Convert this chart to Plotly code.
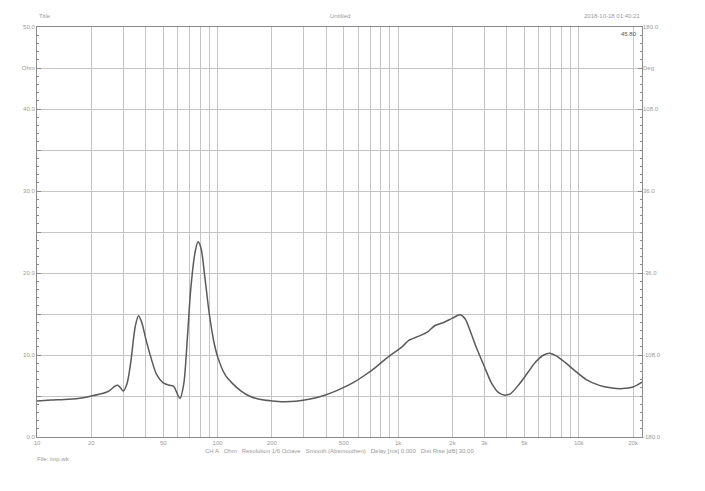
import plotly.graph_objects as go
import numpy as np

freq_hz = [10, 12, 15, 18, 20, 23, 25, 27, 28, 29, 30, 31.5, 33, 35, 36.5, 38, 40, 43, 46, 50,
           54, 57, 60, 62, 65, 68, 71, 75, 78, 81, 85, 90, 95, 100, 110, 120, 135, 150, 170, 200,
           230, 270, 320, 380, 450, 550, 650, 750, 850, 950, 1050, 1150, 1300, 1450, 1600, 1800,
           2000, 2200, 2350, 2500, 2700, 3000, 3300, 3600, 3900, 4200, 4700, 5200, 5800, 6400,
           6900, 7500, 8500, 9500, 11000, 13000, 15000, 17500, 20000, 22400]
impedance_ohm = [4.4, 4.5, 4.6, 4.8, 5.0, 5.3, 5.6, 6.2, 6.3, 6.0, 5.6, 6.5, 9.0, 13.5, 14.8, 14.0, 12.0, 9.5, 7.6, 6.6,
                 6.3, 6.2, 5.2, 4.7, 6.5, 12.0, 18.0, 22.5, 23.8, 23.0, 19.5, 15.0, 11.8, 9.8, 7.6, 6.6, 5.6, 5.0, 4.6, 4.4,
                 4.3, 4.35, 4.6, 5.0, 5.6, 6.5, 7.5, 8.5, 9.5, 10.3, 11.0, 11.8, 12.3, 12.8, 13.6, 14.0,
                 14.5, 14.9, 14.4, 13.0, 11.0, 8.6, 6.5, 5.4, 5.1, 5.3, 6.5, 7.8, 9.2, 10.0,
                 10.2, 9.9, 9.0, 8.1, 7.0, 6.3, 6.0, 5.9, 6.1, 6.7]

x_grid = [10, 20, 30, 40, 50, 60, 70, 80, 90, 100, 200, 300, 400, 500, 600, 700, 800, 900,
          1000, 2000, 3000, 4000, 5000, 6000, 7000, 8000, 9000, 10000, 20000]
x_labels = {10: "10", 20: "20", 50: "50", 100: "100", 200: "200", 500: "500", 1000: "1k",
            2000: "2k", 3000: "3k", 5000: "5k", 10000: "10k", 20000: "20k"}
y_ticks = [0, 5, 10, 15, 20, 25, 30, 35, 40, 45, 50]
y_labels = ["0.0", "", "10.0", "", "20.0", "", "30.0", "", "40.0", "Ohm", "50.0"]
y2_ticks = [-180, -108, -36, 36, 108, 144, 180]
y2_labels = ["-180.0", "-108.0", "-36.0", "36.0", "108.0", "Deg", "180.0"]

TXT = "#9a9a9a"
GRID = "#c4c4c4"
AX = "#8a8a8a"
FONT = dict(family="Liberation Sans, Arial, sans-serif", size=6, color=TXT)

fig = go.Figure()
fig.add_trace(go.Scatter(x=freq_hz, y=impedance_ohm, mode="lines",
                         line=dict(color="#5a5a5a", width=1.5, shape="spline", smoothing=0.8),
                         hoverinfo="skip", showlegend=False))
fig.add_trace(go.Scatter(x=[10], y=[0], yaxis="y2", mode="markers", marker=dict(opacity=0),
                         showlegend=False, hoverinfo="skip"))

fig.update_layout(
    width=697, height=483,
    margin=dict(l=29, r=63, t=19, b=54),
    paper_bgcolor="white", plot_bgcolor="white",
    font=FONT,
    xaxis=dict(type="log", range=[1, np.log10(22400)],
               tickvals=x_grid, ticktext=[x_labels.get(v, "") for v in x_grid],
               showgrid=True, gridcolor=GRID, gridwidth=1,
               showline=True, linecolor=AX, linewidth=1, mirror=True,
               ticks="", zeroline=False, tickfont=FONT),
    yaxis=dict(range=[0, 50], tickvals=y_ticks, ticktext=y_labels,
               showgrid=True, gridcolor=GRID, gridwidth=1,
               showline=True, linecolor=AX, linewidth=1, mirror=True,
               ticks="inside", ticklen=4, tickcolor=AX,
               minor=dict(dtick=1, ticks="inside", ticklen=2, tickcolor=AX, showgrid=False),
               zeroline=False, tickfont=FONT),
    yaxis2=dict(range=[-180, 180], overlaying="y", side="right",
                tickvals=y2_ticks, ticktext=y2_labels, showgrid=False,
                ticks="inside", ticklen=4, tickcolor=AX,
                minor=dict(dtick=7.2, ticks="inside", ticklen=2, tickcolor=AX),
                zeroline=False, showline=False, tickfont=FONT),
)

ann = [
    dict(x=0.0, y=1.0, xref="paper", yref="paper", text="Title", xanchor="left", yanchor="bottom", yshift=6),
    dict(x=0.5, y=1.0, xref="paper", yref="paper", text="Untitled", xanchor="center", yanchor="bottom", yshift=6),
    dict(x=1.0, y=1.0, xref="paper", yref="paper", text="2018-10-18 01:40:21", xanchor="right", yanchor="bottom", yshift=6),
    dict(x=0.995, y=0.995, xref="paper", yref="paper", text="45.80", xanchor="right", yanchor="top",
         font=dict(family="Liberation Sans, Arial, sans-serif", size=6, color="#555")),
    dict(x=0.5, y=0, xref="paper", yref="paper", text="CH A   Ohm   Resolution 1/6 Octave   Smooth (Absmoothen)   Delay [ms] 0.000   Dist Rise [dB] 30.00",
         xanchor="center", yanchor="top", yshift=-9),
    dict(x=0.0, y=0, xref="paper", yref="paper", text="File: imp.wk", xanchor="left", yanchor="top", yshift=-17, xshift=-2),
]
for a in ann:
    a.setdefault("font", FONT)
    a["showarrow"] = False
fig.update_layout(annotations=ann)

fig.write_html("out.html")
